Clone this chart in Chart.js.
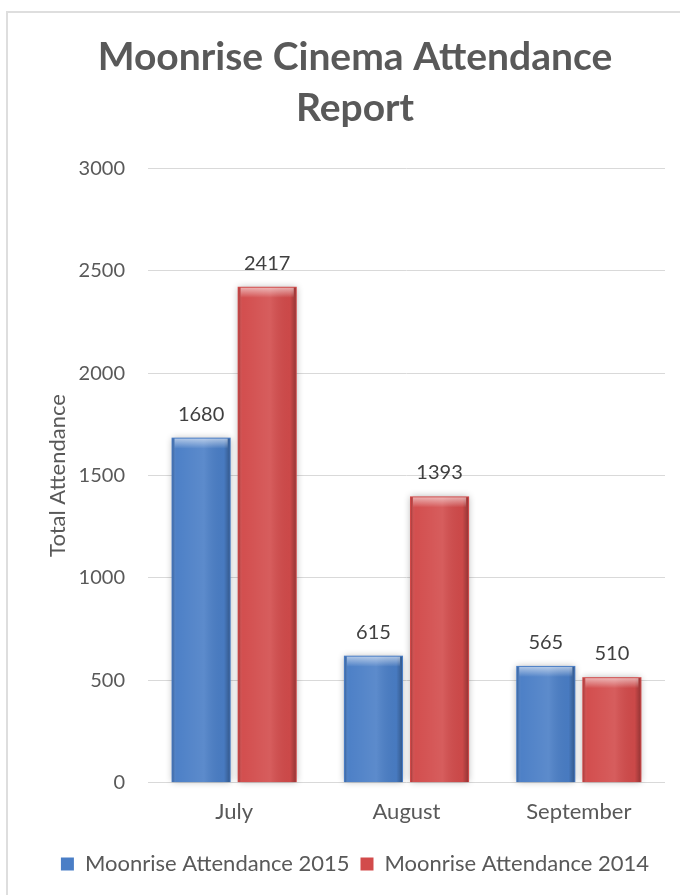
<!DOCTYPE html>
<html>
<head>
<meta charset="utf-8">
<script src="https://cdn.jsdelivr.net/npm/chart.js@4"></script>
<style>
  html, body { margin: 0; padding: 0; background: #fff; overflow: hidden; }
  #wrap { position: relative; width: 680px; height: 895px; }
  #frame { position: absolute; left: 6px; top: 11px; width: 720px; height: 920px; border: 2px solid #dedede; box-sizing: border-box; }
  #chart { position: absolute; left: 0; top: 0; }
</style>
</head>
<body>
<div id="wrap">
  <div id="frame"></div>
  <canvas id="chart" width="680" height="895"></canvas>
</div>
<script>
const months = ['July', 'August', 'September'];
const attendance2015 = [1680, 615, 565];
const attendance2014 = [2417, 1393, 510];
const yMin = 0;
const yMax = 3000;
const yStep = 500;

const FONT = 'Lato';
const TEXT = '#595959';

// soft grey halo behind each bar
const barShadow = {
  id: 'barShadow',
  beforeDatasetsDraw(chart) {
    const ctx = chart.ctx;
    chart.data.datasets.forEach((ds, i) => {
      chart.getDatasetMeta(i).data.forEach(bar => {
        const w = bar.width;
        ctx.save();
        ctx.shadowColor = 'rgba(0,0,0,0.3)';
        ctx.shadowBlur = 7;
        ctx.fillStyle = ds.backgroundColor;
        ctx.fillRect(bar.x - w / 2 - 1, bar.y - 1, w + 2, bar.base - bar.y + 1);
        ctx.restore();
      });
    });
  }
};

// cylinder shading + bevelled top, then the value labels
const barShade = {
  id: 'barShade',
  afterDatasetsDraw(chart) {
    const ctx = chart.ctx;
    chart.data.datasets.forEach((ds, i) => {
      chart.getDatasetMeta(i).data.forEach((bar, j) => {
        const w = bar.width;
        const left = bar.x - w / 2;
        const top = bar.y;
        const h = bar.base - bar.y;
        ctx.save();
        const g = ctx.createLinearGradient(left, 0, left + w, 0);
        g.addColorStop(0, 'rgba(0,0,0,0.2)');
        g.addColorStop(0.07, 'rgba(255,255,255,0.02)');
        g.addColorStop(0.55, 'rgba(255,255,255,0.1)');
        g.addColorStop(0.9, 'rgba(0,0,0,0.03)');
        g.addColorStop(1, 'rgba(0,0,0,0.28)');
        ctx.fillStyle = g;
        ctx.fillRect(left, top, w, h);
        const cap = Math.min(10, h);
        const v = ctx.createLinearGradient(0, top, 0, top + cap);
        v.addColorStop(0, 'rgba(255,255,255,0.55)');
        v.addColorStop(1, 'rgba(255,255,255,0)');
        ctx.fillStyle = v;
        ctx.fillRect(left + 2, top, w - 4, cap);
        ctx.restore();

        ctx.save();
        ctx.font = '20px ' + FONT;
        ctx.fillStyle = '#404040';
        ctx.textAlign = 'center';
        ctx.textBaseline = 'alphabetic';
        ctx.fillText(String(ds.data[j]), bar.x, top - 18);
        ctx.restore();
      });
    });
  }
};

new Chart(document.getElementById('chart'), {
  type: 'bar',
  data: {
    labels: months,
    datasets: [
      { label: 'Moonrise Attendance 2015', data: attendance2015, backgroundColor: '#4a7ec6' },
      { label: 'Moonrise Attendance 2014', data: attendance2014, backgroundColor: '#d24b4b' }
    ]
  },
  options: {
    responsive: false,
    animation: false,
    devicePixelRatio: 1,
    layout: { padding: { left: 45, right: 15, top: 0, bottom: 10 } },
    datasets: {
      bar: { categoryPercentage: 0.767, barPercentage: 0.864, borderWidth: 0 }
    },
    plugins: {
      title: {
        display: true,
        text: ['Moonrise Cinema Attendance', 'Report'],
        color: TEXT,
        font: { family: FONT, size: 39, weight: 'bold', lineHeight: 1.3 },
        padding: { top: 32, bottom: 35 }
      },
      legend: {
        position: 'bottom',
        labels: {
          color: TEXT,
          font: { family: FONT, size: 22 },
          boxWidth: 13,
          boxHeight: 13,
          padding: 11
        }
      },
      tooltip: { enabled: false }
    },
    scales: {
      x: {
        grid: { display: false },
        border: { display: false },
        ticks: { color: TEXT, font: { family: FONT, size: 22 }, padding: 8 },
        afterFit(scale) { scale.height += 9; }
      },
      y: {
        min: yMin,
        max: yMax,
        border: { display: false },
        grid: { color: '#d9d9d9', drawTicks: false },
        ticks: {
          stepSize: yStep,
          color: TEXT,
          font: { family: FONT, size: 20 },
          padding: 23,
          callback: v => String(v)
        },
        title: {
          display: true,
          text: 'Total Attendance',
          color: TEXT,
          font: { family: FONT, size: 22 },
          padding: { top: 0, bottom: 0 }
        },
        afterFit(scale) { scale.width = 103; }
      }
    }
  },
  plugins: [barShadow, barShade]
});
</script>
</body>
</html>
